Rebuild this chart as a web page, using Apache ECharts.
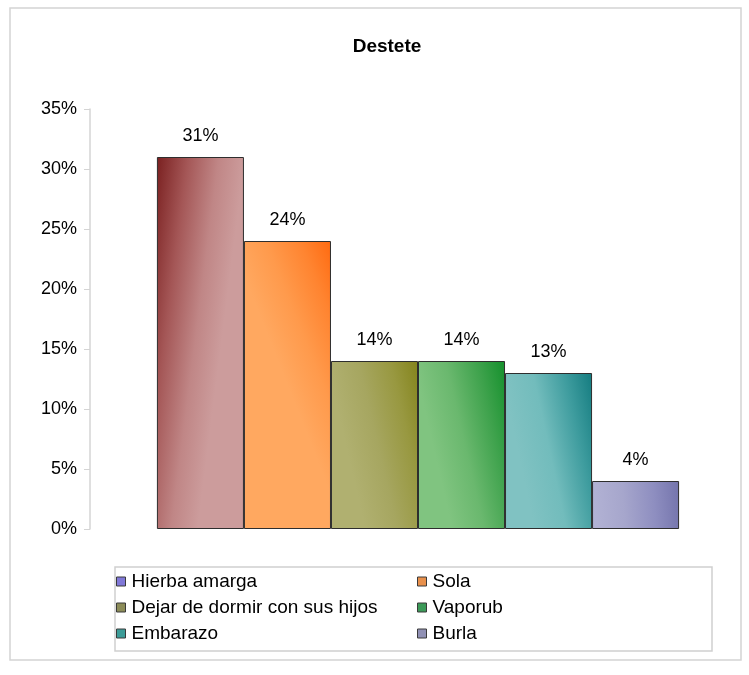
<!DOCTYPE html>
<html>
<head>
<meta charset="utf-8">
<script src="https://cdn.jsdelivr.net/npm/echarts@6/dist/echarts.min.js"></script>
<style>html,body{margin:0;padding:0;background:#fff}#c{width:749px;height:675px}</style>
</head>
<body>
<div id="c"></div>
<script>
const title = 'Destete';
const categories = ['Hierba amarga', 'Sola', 'Dejar de dormir con sus hijos', 'Vaporub', 'Embarazo', 'Burla'];
const values = [31, 24, 14, 14, 13, 4];
const yTicks = [0, 5, 10, 15, 20, 25, 30, 35];
const legendCol1 = ['Hierba amarga', 'Dejar de dormir con sus hijos', 'Embarazo'];
const legendCol2 = ['Sola', 'Vaporub', 'Burla'];

const barGradients = [
  ['#7a2020', '#a45656', '#c08686', '#cc9c9c'],
  ['#ffa860', '#ff9a4c', '#ff8430', '#ff6a10'],
  ['#b0b070', '#a6a660', '#989840', '#84841c'],
  ['#80c480', '#6ab86e', '#3ea24c', '#14902c'],
  ['#80c2c2', '#72bcbc', '#3e9c9e', '#147c80'],
  ['#b2b2d4', '#a6a6cc', '#8e8ec0', '#7474ac']
];
const legendColors = ['#8078d8', '#e8904c', '#8c8c58', '#3c9a58', '#3c9c98', '#9090b4'];

function grad(c, i) {
  const dir = i === 0 ? {x:0,y:0,x2:1,y2:0.03} : {x:0,y:0.12,x2:1,y2:0};
  return {type:'linear', x:dir.x, y:dir.y, x2:dir.x2, y2:dir.y2, colorStops:[
    {offset:0,color:c[0]},{offset:0.35,color:c[1]},{offset:0.7,color:c[2]},{offset:1,color:c[3]}]};
}

const font = 'Liberation Sans, Arial, sans-serif';
const series = categories.map((name, i) => ({
  name: name,
  type: 'bar',
  data: [values[i]],
  barGap: '0%',
  barCategoryGap: '20.4%',
  itemStyle: { color: grad(barGradients[i], i), borderColor: '#2e2e2e', borderWidth: 1 },
  label: { show: true, position: 'top', distance: 12, formatter: '{c}%', color: '#000', fontSize: 18, fontFamily: font },
  emphasis: { disabled: true }
}));

function legendData(names) {
  return names.map(n => ({ name: n, itemStyle: { color: legendColors[categories.indexOf(n)], borderColor: '#3a3a3a', borderWidth: 1 } }));
}

const legendCommon = { orient: 'vertical', top: 572, padding: 0, itemWidth: 9, itemHeight: 9, itemGap: 7, icon: 'rect',
  textStyle: { fontFamily: font, fontSize: 19, color: '#000', padding: [0,0,0,1] }, selectedMode: false };

const chart = echarts.init(document.getElementById('c'), null, {renderer: 'canvas'});
chart.setOption({
  animation: false,
  backgroundColor: '#fff',
  title: { text: title, left: 382, textAlign: 'center', top: 32,
    textStyle: { fontFamily: font, fontWeight: 'bold', fontSize: 19, color: '#000' } },
  graphic: [
    { type: 'rect', shape: { x: 10, y: 8, width: 731, height: 652 }, style: { fill: 'none', stroke: '#d4d4d4', lineWidth: 1.5 }, z: -1 },
    { type: 'rect', shape: { x: 115, y: 567, width: 597, height: 84 }, style: { fill: 'none', stroke: '#d0d0d0', lineWidth: 1.5 }, z: -1 }
  ],
  legend: [
    Object.assign({}, legendCommon, { left: 116, data: legendData(legendCol1) }),
    Object.assign({}, legendCommon, { left: 417, data: legendData(legendCol2) })
  ],
  grid: { left: 90, right: 3, top: 109, bottom: 146, containLabel: false },
  xAxis: { type: 'category', data: [''], axisLine: { show: false }, axisTick: { show: false }, axisLabel: { show: false } },
  yAxis: { type: 'value', min: yTicks[0], max: yTicks[yTicks.length-1], interval: 5,
    axisLine: { show: true, lineStyle: { color: '#d4d4d4', width: 1.5 } },
    axisTick: { show: true, length: 6, lineStyle: { color: '#d4d4d4' } },
    splitLine: { show: false },
    axisLabel: { formatter: '{value}%', color: '#000', fontSize: 18, fontFamily: font, margin: 13 } },
  series: series
});
</script>
</body>
</html>
